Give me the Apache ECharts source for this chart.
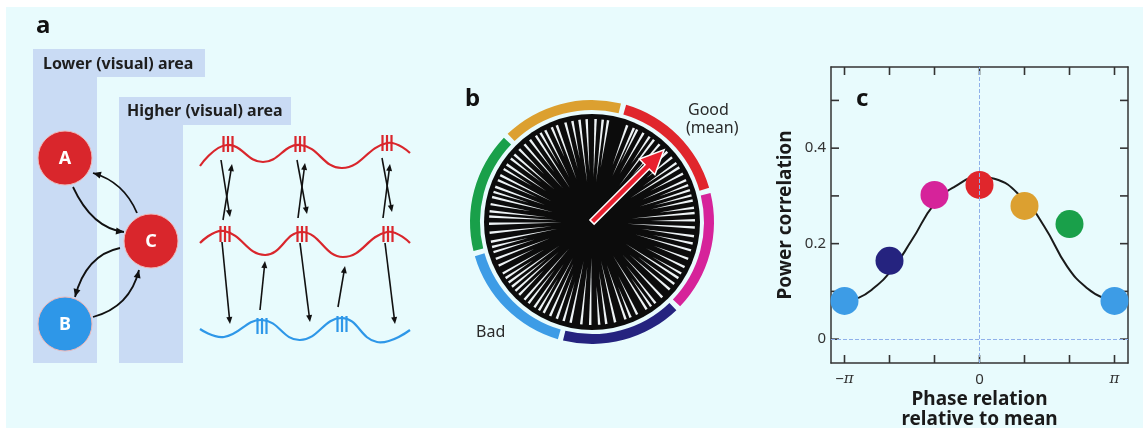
<!DOCTYPE html>
<html>
<head>
<meta charset="utf-8">
<script src="https://cdn.jsdelivr.net/npm/echarts@6/dist/echarts.min.js"></script>
<style>
  html, body { margin: 0; padding: 0; background: #fff; }
  #bg { position: absolute; left: 6px; top: 7px; right: 0; bottom: 0; background: #e8fbfd; }
  #chart { position: absolute; left: 0; top: 0; width: 1143px; height: 428px; }
</style>
</head>
<body>
<div id="bg"></div>
<div id="chart"></div>
<script>
// ---- panel c: phase (in units of pi) vs power correlation ----
const phaseValues = [-1, -2 / 3, -1 / 3, 0, 1 / 3, 2 / 3, 1];
const powerValues = [0.080, 0.164, 0.302, 0.323, 0.279, 0.241, 0.080];
const pointColors = ['#3d9ce6', '#25237f', '#d6239a', '#e0262c', '#dca030', '#19a04a', '#3d9ce6'];
const curvePhase = [-0.9, -0.8, -0.65, -0.5, -0.33, -0.18, 0, 0.11, 0.33, 0.48, 0.65, 0.8, 0.92];
const curvePower = [0.086, 0.103, 0.145, 0.208, 0.285, 0.320, 0.340, 0.336, 0.292, 0.236, 0.152, 0.106, 0.086];
const xTickValues = [-1, -2 / 3, -1 / 3, 0, 1 / 3, 2 / 3, 1];
const xLabelValues = [-1, 0, 1];
const yTickValues = [0, 0.1, 0.2, 0.3, 0.4, 0.5];
const yLabelValues = [0, 0.2, 0.4];
const xMin = -1.1, xMax = 1.1, yMin = -0.05, yMax = 0.57;

// ---- panel b: phase bins around the circle (degrees clockwise from top) ----
const ringBins = ['0', '-π/3', '-2π/3', 'π', '2π/3', 'π/3'];
const ringValues = [1, 1, 1, 1, 1, 1];
const ringColors = ['#e0262c', '#d6239a', '#25237f', '#3d9ce6', '#19a04a', '#dca030'];
// angular gaps between single-trial phase lines, and where each gap opens up
const gapAngles = [2, 6, 9, 20, 24, 26, 30, 34, 37, 41, 47, 51, 55, 58, 62, 66, 69, 72, 75, 78, 82, 85,
  89, 93, 98, 102, 106, 111, 116, 120, 123, 127, 131, 137, 142, 145, 148, 154, 158, 161, 167, 172,
  176, 181, 186, 192, 196, 200, 204, 208, 211, 214, 218, 221, 225, 228, 231, 234, 237, 240, 245,
  249, 253, 256, 259, 264, 269, 273, 276, 280, 284, 287, 290, 294, 297, 301, 304, 308, 311, 315,
  319, 323, 327, 330, 333, 337, 340, 345, 349, 353, 357];
const gapStart = [45, 40, 55, 60, 50, 65, 55, 70, 45, 60, 50, 70, 62, 45, 66, 55, 72, 50, 64, 60, 68, 40,
  58, 35, 50, 62, 45, 66, 60, 70, 40, 58, 50, 45, 55, 68, 40, 60, 70, 45, 40, 50,
  64, 35, 45, 40, 62, 55, 45, 40, 66, 50, 60, 35, 68, 45, 58, 40, 70, 55, 64,
  45, 60, 66, 35, 40, 30, 35, 45, 62, 40, 66, 50, 60, 45, 70, 55, 64, 50, 68,
  45, 62, 40, 66, 50, 70, 45, 55, 64, 40, 50];
const meanAngle = 45;
const meanLength = 102;

const chart = echarts.init(document.getElementById('chart'));

const FONT = 'Noto Sans';
const discR = 108;
const AXIS = '#333';
const GRID = { left: 831, top: 67, width: 297, height: 296 };

function head(tip, from, color, len, half) {
  const dx = tip[0] - from[0], dy = tip[1] - from[1];
  const L = Math.hypot(dx, dy);
  const ux = dx / L, uy = dy / L;
  const bx = tip[0] - ux * len, by = tip[1] - uy * len;
  return {
    type: 'polygon',
    shape: { points: [tip, [bx - uy * half, by + ux * half], [bx + uy * half, by - ux * half]] },
    style: { fill: color }
  };
}

function arrow(from, to) {
  const dx = to[0] - from[0], dy = to[1] - from[1];
  const L = Math.hypot(dx, dy);
  const end = [to[0] - dx / L * 5, to[1] - dy / L * 5];
  return [
    { type: 'line', shape: { x1: from[0], y1: from[1], x2: end[0], y2: end[1] }, style: { stroke: '#111', lineWidth: 1.6 } },
    head(to, from, '#111', 7, 3)
  ];
}

function curvedArrow(from, cp, to) {
  return [
    { type: 'bezierCurve', shape: { x1: from[0], y1: from[1], cpx1: cp[0], cpy1: cp[1], x2: to[0], y2: to[1] },
      style: { stroke: '#111', lineWidth: 1.8, fill: null } },
    head(to, cp, '#111', 8, 3.5)
  ];
}

function wave(points, color) {
  return { type: 'polyline', shape: { points: points, smooth: 0.45 }, style: { stroke: color, lineWidth: 2.2, fill: null } };
}

function spikes(c, color) {
  return [-4.5, 0, 4.5].map(off => ({
    type: 'line', shape: { x1: c[0] + off, y1: c[1] - 8, x2: c[0] + off, y2: c[1] + 8 },
    style: { stroke: color, lineWidth: 2.2 }
  }));
}

function node(c, label, color) {
  return [
    { type: 'circle', shape: { cx: c[0], cy: c[1], r: 27 }, style: { fill: color, stroke: '#f0b8b8', lineWidth: 1 } },
    { type: 'text', x: c[0], y: c[1] + 1, style: { text: label, fill: '#fff', font: 'bold 18px ' + FONT, align: 'center', verticalAlign: 'middle' } }
  ];
}

// inward frame ticks for panel c, positioned from the same grid box and axis extents
const gx = v => GRID.left + (v - xMin) / (xMax - xMin) * GRID.width;
const gy = v => GRID.top + GRID.height - (v - yMin) / (yMax - yMin) * GRID.height;
function frameTicks() {
  const out = [];
  const bottom = GRID.top + GRID.height, right = GRID.left + GRID.width;
  xTickValues.forEach(v => {
    const x = gx(v);
    out.push({ type: 'line', shape: { x1: x, y1: bottom, x2: x, y2: bottom - 8 }, style: { stroke: AXIS, lineWidth: 1.6 } });
    out.push({ type: 'line', shape: { x1: x, y1: GRID.top, x2: x, y2: GRID.top + 8 }, style: { stroke: AXIS, lineWidth: 1.6 } });
  });
  yTickValues.forEach(v => {
    const y = gy(v);
    out.push({ type: 'line', shape: { x1: GRID.left, y1: y, x2: GRID.left + 8, y2: y }, style: { stroke: AXIS, lineWidth: 1.6 } });
    out.push({ type: 'line', shape: { x1: right, y1: y, x2: right - 8, y2: y }, style: { stroke: AXIS, lineWidth: 1.6 } });
  });
  return out;
}

const RED = '#d9262c', BLUE = '#2e97e8', PANEL = '#c9dbf4';

const graphics = [
  // panel labels
  { type: 'text', x: 36, y: 26, style: { text: 'a', font: 'bold 24px ' + FONT, fill: '#111', verticalAlign: 'middle' } },
  { type: 'text', x: 465, y: 99, style: { text: 'b', font: 'bold 24px ' + FONT, fill: '#111', verticalAlign: 'middle' } },
  { type: 'text', x: 856, y: 99, style: { text: 'c', font: 'bold 24px ' + FONT, fill: '#111', verticalAlign: 'middle' } },
  // area backgrounds
  { type: 'rect', shape: { x: 33, y: 49, width: 172, height: 28 }, style: { fill: PANEL } },
  { type: 'rect', shape: { x: 33, y: 49, width: 64, height: 314 }, style: { fill: PANEL } },
  { type: 'rect', shape: { x: 119, y: 97, width: 172, height: 28 }, style: { fill: PANEL } },
  { type: 'rect', shape: { x: 119, y: 97, width: 64, height: 266 }, style: { fill: PANEL } },
  { type: 'text', x: 43, y: 64, style: { text: 'Lower (visual) area', font: 'bold 16px ' + FONT, fill: '#1e1e1e', verticalAlign: 'middle' } },
  { type: 'text', x: 127, y: 111, style: { text: 'Higher (visual) area', font: 'bold 16px ' + FONT, fill: '#1e1e1e', verticalAlign: 'middle' } },
  // curved arrows between nodes
  ...curvedArrow([73, 187], [92, 228], [124, 232]),
  ...curvedArrow([137, 213], [124, 182], [93, 173]),
  ...curvedArrow([120, 248], [86, 255], [75, 297]),
  ...curvedArrow([93, 317], [130, 307], [139, 270]),
  ...node([65, 158], 'A', RED),
  ...node([151, 241], 'C', RED),
  ...node([65, 324], 'B', BLUE),
  // oscillations
  wave([[200, 166], [227, 145], [263, 162], [300, 145], [342, 168], [387, 143], [410, 153]], RED),
  wave([[200, 243], [224, 231], [265, 255], [302, 232], [343, 257], [387, 232], [410, 243]], RED),
  wave([[200, 329], [224, 337], [262, 320], [300, 340], [342, 318], [377, 342], [410, 330]], BLUE),
  ...spikes([228, 144], RED), ...spikes([300, 144], RED), ...spikes([387, 143], RED),
  ...spikes([225, 234], RED), ...spikes([302, 234], RED), ...spikes([388, 234], RED),
  ...spikes([262, 326], BLUE), ...spikes([342, 324], BLUE),
  // spike-driven arrows
  ...arrow([223, 220], [232, 164]), ...arrow([221, 160], [230, 217]),
  ...arrow([298, 218], [305, 163]), ...arrow([297, 160], [307, 214]),
  ...arrow([383, 218], [390, 164]), ...arrow([382, 158], [392, 212]),
  ...arrow([222, 242], [230, 324]), ...arrow([300, 243], [310, 322]), ...arrow([385, 243], [395, 324]),
  ...arrow([260, 310], [265, 261]), ...arrow([338, 307], [345, 266]),
  // panel b labels
  { type: 'text', x: 688, y: 110, style: { text: 'Good', font: '16px ' + FONT, fill: '#2a2a2a', verticalAlign: 'middle' } },
  { type: 'text', x: 686, y: 128, style: { text: '(mean)', font: '16px ' + FONT, fill: '#2a2a2a', verticalAlign: 'middle' } },
  { type: 'text', x: 476, y: 332, style: { text: 'Bad', font: '16px ' + FONT, fill: '#2a2a2a', verticalAlign: 'middle' } },
  // panel c frame ticks
  ...frameTicks()
];

const frameAxis = {
  axisLine: { show: true, onZero: false, lineStyle: { color: AXIS, width: 1.5 } },
  axisTick: { show: false },
  splitLine: { show: false }
};

const option = {
  animation: false,
  backgroundColor: 'transparent',
  graphic: { elements: graphics },
  polar: { center: [592, 222], radius: discR },
  angleAxis: { type: 'value', min: 0, max: 360, startAngle: 90, clockwise: true, show: false },
  radiusAxis: { type: 'value', min: 0, max: discR, show: false },
  grid: { ...GRID, outerBoundsMode: 'none', containLabel: false },
  xAxis: [
    {
      ...frameAxis, type: 'value', min: xMin, max: xMax, position: 'bottom',
      axisLabel: {
        customValues: xLabelValues, margin: 9, color: AXIS, fontSize: 15, fontFamily: FONT,
        formatter: v => (v < 0 ? '−{pi|π}' : v > 0 ? '{pi|π}' : '0'),
        rich: { pi: { fontStyle: 'italic', fontFamily: 'DejaVu Serif', fontSize: 15, color: AXIS } }
      },
      name: 'Phase relation\nrelative to mean', nameLocation: 'middle', nameGap: 27, nameMoveOverlap: false,
      nameTextStyle: { fontFamily: FONT, fontWeight: 'bold', fontSize: 19, color: '#1a1a1a', lineHeight: 20 }
    },
    { ...frameAxis, type: 'value', min: xMin, max: xMax, position: 'top', axisLabel: { show: false } }
  ],
  yAxis: [
    {
      ...frameAxis, type: 'value', min: yMin, max: yMax, position: 'left',
      axisLabel: {
        customValues: yLabelValues, margin: 5, color: AXIS, fontSize: 15, fontFamily: FONT,
        formatter: v => (v === 0 ? '0' : v.toFixed(1))
      },
      name: 'Power correlation', nameLocation: 'middle', nameGap: 36,
      nameTextStyle: { fontFamily: FONT, fontWeight: 'bold', fontSize: 19, color: '#1a1a1a' }
    },
    { ...frameAxis, type: 'value', min: yMin, max: yMax, position: 'right', axisLabel: { show: false } }
  ],
  series: [
    // panel b: phase-bin ring
    {
      type: 'pie', center: [592, 222], radius: [112, 122], startAngle: 75, padAngle: 2.5,
      silent: true, label: { show: false }, labelLine: { show: false }, emphasis: { disabled: true },
      data: ringBins.map((n, i) => ({ name: n, value: ringValues[i], itemStyle: { color: ringColors[i] } }))
    },
    // panel b: black disc of single-trial phases
    {
      type: 'custom', coordinateSystem: 'polar', z: 1, silent: true,
      data: [[discR, 0]],
      renderItem: (params, api) => {
        const c = api.coord([0, 0]);
        const e = api.coord([api.value(0), 0]);
        return { type: 'circle', shape: { cx: c[0], cy: c[1], r: Math.hypot(e[0] - c[0], e[1] - c[1]) }, style: { fill: '#0c0c0c' } };
      }
    },
    // panel b: gaps between the phase lines
    {
      type: 'custom', coordinateSystem: 'polar', z: 2, silent: true,
      data: gapAngles.map((a, i) => [gapStart[i], a]),
      renderItem: (params, api) => {
        const a = api.value(1);
        const p0 = api.coord([api.value(0), a]);
        const p1 = api.coord([discR - 5, a - 0.7]);
        const p2 = api.coord([discR - 5, a + 0.7]);
        return { type: 'polygon', shape: { points: [p0, p1, p2] }, style: { fill: '#eef3f5' } };
      }
    },
    // panel b: mean phase arrow
    {
      type: 'custom', coordinateSystem: 'polar', z: 3, silent: true,
      data: [[meanLength, meanAngle]],
      renderItem: (params, api) => {
        const tip = api.coord([api.value(0), api.value(1)]);
        const base = api.coord([0, api.value(1)]);
        const dx = tip[0] - base[0], dy = tip[1] - base[1];
        const L = Math.hypot(dx, dy);
        const ux = dx / L, uy = dy / L, nx = -uy, ny = ux;
        const hl = 24, hw = 11, sw = 3;
        const bx = tip[0] - ux * hl, by = tip[1] - uy * hl;
        const pts = [
          [base[0] + nx * sw, base[1] + ny * sw],
          [bx + nx * sw, by + ny * sw],
          [bx + nx * hw, by + ny * hw],
          tip,
          [bx - nx * hw, by - ny * hw],
          [bx - nx * sw, by - ny * sw],
          [base[0] - nx * sw, base[1] - ny * sw]
        ];
        return { type: 'polygon', shape: { points: pts }, style: { fill: '#e8202f', stroke: '#fff', lineWidth: 1.5 } };
      }
    },
    // panel c: fitted curve with zero reference lines
    {
      type: 'line', xAxisIndex: 0, yAxisIndex: 0, smooth: true, showSymbol: false, z: 2,
      data: curvePhase.map((x, i) => [x, curvePower[i]]),
      lineStyle: { color: '#1a1a1a', width: 2 },
      markLine: {
        silent: true, symbol: 'none', label: { show: false },
        lineStyle: { color: '#8fb0ea', type: 'dashed', width: 1 },
        data: [{ xAxis: 0 }, { yAxis: 0 }]
      }
    },
    // panel c: power correlation per phase bin
    {
      type: 'scatter', xAxisIndex: 0, yAxisIndex: 0, symbolSize: 28, z: 3,
      data: phaseValues.map((x, i) => ({ value: [x, powerValues[i]], itemStyle: { color: pointColors[i], opacity: 1 } }))
    }
  ]
};

chart.setOption(option);
</script>
</body>
</html>
